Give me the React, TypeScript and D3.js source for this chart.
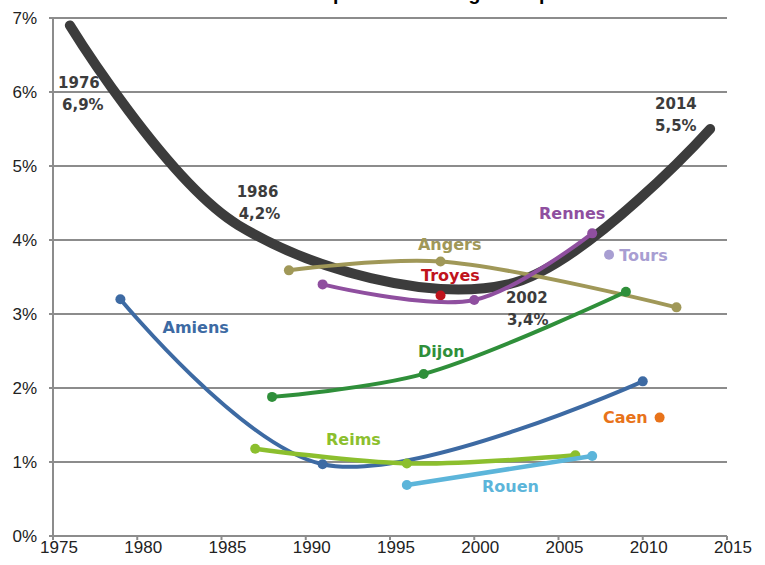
import React from "react";
import * as d3 from "d3";

// ---- data ----
const xTickYears = [1975, 1980, 1985, 1990, 1995, 2000, 2005, 2010, 2015];
const yTickValues = [0, 1, 2, 3, 4, 5, 6, 7];

const nationalYears = [1976, 1986, 2002, 2014];
const nationalValues = [6.9, 4.2, 3.4, 5.5];
const nationalLabels = [["1976", "6,9%"], ["1986", "4,2%"], ["2002", "3,4%"], ["2014", "5,5%"]];

const amiensYears = [1979, 1991, 2010];
const amiensValues = [3.2, 0.97, 2.09];
const angersYears = [1989, 1998, 2012];
const angersValues = [3.59, 3.71, 3.09];
const rennesYears = [1991, 2000, 2007];
const rennesValues = [3.4, 3.19, 4.09];
const dijonYears = [1988, 1997, 2009];
const dijonValues = [1.88, 2.19, 3.3];
const reimsYears = [1987, 1996, 2006];
const reimsValues = [1.18, 0.98, 1.09];
const rouenYears = [1996, 2007];
const rouenValues = [0.69, 1.08];
const troyesYears = [1998];
const troyesValues = [3.25];
const toursYears = [2008];
const toursValues = [3.8];
const caenYears = [2011];
const caenValues = [1.6];

const cityNames = ["Amiens", "Angers", "Troyes", "Rennes", "Tours", "Dijon", "Reims", "Rouen", "Caen"];
const cityYears = [amiensYears, angersYears, troyesYears, rennesYears, toursYears, dijonYears, reimsYears, rouenYears, caenYears];
const cityValues = [amiensValues, angersValues, troyesValues, rennesValues, toursValues, dijonValues, reimsValues, rouenValues, caenValues];

// ---- styles / layout ----
const cityColors = ["#3d6aa3", "#a09858", "#c0141c", "#8f4f9f", "#a89ed2", "#2f8f3a", "#8cbf2e", "#5cb5da", "#e8731a"];
const cityWidths = [4, 4, 4, 4, 4, 4, 4.5, 4.5, 4];
// label anchor positions in data coordinates (year, value) – start anchored, baseline
const cityLabelPos: [number, number][] = [
  [1981.5, 2.74], [1996.66, 3.86], [1996.84, 3.45], [2003.84, 4.28], [2008.6, 3.72],
  [1996.66, 2.42], [1991.2, 1.23], [2000.46, 0.595], [2007.64, 1.53],
];
const nationalLabelPos: [number, number, number][] = [
  // x year of first line, x offset(px) of second line, baseline value of first line
  [1975.3, 4, 6.05],
  [1985.9, 2, 4.58],
  [2001.88, 1, 3.15],
  [2010.73, 0, 5.77],
];

const W = 765, H = 565;
const x = d3.scaleLinear().domain([1975, 2015]).range([53, 727]);
const y = d3.scaleLinear().domain([0, 7]).range([536, 18]);
const line = d3
  .line<[number, number]>()
  .x((d) => x(d[0]))
  .y((d) => y(d[1]))
  .curve(d3.curveCatmullRom.alpha(0.5));

const GRID = "#8c8c8c";
const DARK = "#3c3c3c";
const LABEL_FONT = "'DejaVu Sans', Verdana, sans-serif";
const TICK_FONT = "'Liberation Sans', Arial, sans-serif";

export default function App() {
  const nat: [number, number][] = nationalYears.map((yr, i) => [yr, nationalValues[i]]);
  return (
    <svg width={W} height={H} style={{ position: "absolute", left: 0, top: 0, background: "#fff" }}>
      {/* title (clipped at top, as in the reference) */}
      <text x={333} y={0} textAnchor="end" fontFamily={TICK_FONT} fontWeight="bold" fontSize={19.5} fill="#000">
        Taux de vacance du
      </text>
      <text x={333} y={0} textAnchor="start" fontFamily={TICK_FONT} fontWeight="bold" fontSize={19.5} fill="#000">
        parc social en grande partie
      </text>

      {/* gridlines */}
      {yTickValues.map((v) => (
        <g key={"g" + v}>
          <line x1={x(1975) - 4} x2={x(2015)} y1={y(v)} y2={y(v)} stroke={GRID} strokeWidth={2} />
          <text x={37} y={y(v)} dy="0.35em" textAnchor="end" fontFamily={TICK_FONT} fontSize={17} fill="#222">
            {v + "%"}
          </text>
        </g>
      ))}
      {/* y axis */}
      <line x1={x(1975)} x2={x(1975)} y1={y(7)} y2={y(0)} stroke={GRID} strokeWidth={2} />
      {/* x ticks */}
      {xTickYears.map((yr) => (
        <g key={"x" + yr}>
          <line x1={x(yr)} x2={x(yr)} y1={y(0)} y2={y(0) + 4} stroke={GRID} strokeWidth={2} />
          <text x={x(yr) + 6} y={y(0) + 17} textAnchor="middle" fontFamily={TICK_FONT} fontSize={17} fill="#222">
            {yr}
          </text>
        </g>
      ))}

      {/* national curve */}
      <path d={line(nat) || ""} fill="none" stroke={DARK} strokeWidth={10} strokeLinecap="round" />

      {/* cities */}
      {cityNames.map((name, i) => {
        const pts: [number, number][] = cityYears[i].map((yr, j) => [yr, cityValues[i][j]]);
        return (
          <g key={name}>
            {pts.length > 1 && (
              <path d={line(pts) || ""} fill="none" stroke={cityColors[i]} strokeWidth={cityWidths[i]} strokeLinecap="round" />
            )}
            {pts.map((p, j) => (
              <circle key={j} cx={x(p[0])} cy={y(p[1])} r={5} fill={cityColors[i]} />
            ))}
            <text
              x={x(cityLabelPos[i][0])}
              y={y(cityLabelPos[i][1])}
              fontFamily={LABEL_FONT}
              fontWeight="bold"
              fontSize={16}
              fill={cityColors[i]}
            >
              {name}
            </text>
          </g>
        );
      })}

      {/* national labels */}
      {nationalLabels.map((lab, i) => {
        const [yr, off, v] = nationalLabelPos[i];
        return (
          <g key={lab[0]}>
            <text x={x(yr)} y={y(v)} fontFamily={LABEL_FONT} fontWeight="bold" fontSize={15} fill={DARK}>
              {lab[0]}
            </text>
            <text x={x(yr) + off} y={y(v) + 22} fontFamily={LABEL_FONT} fontWeight="bold" fontSize={15} fill={DARK}>
              {lab[1]}
            </text>
          </g>
        );
      })}
    </svg>
  );
}
